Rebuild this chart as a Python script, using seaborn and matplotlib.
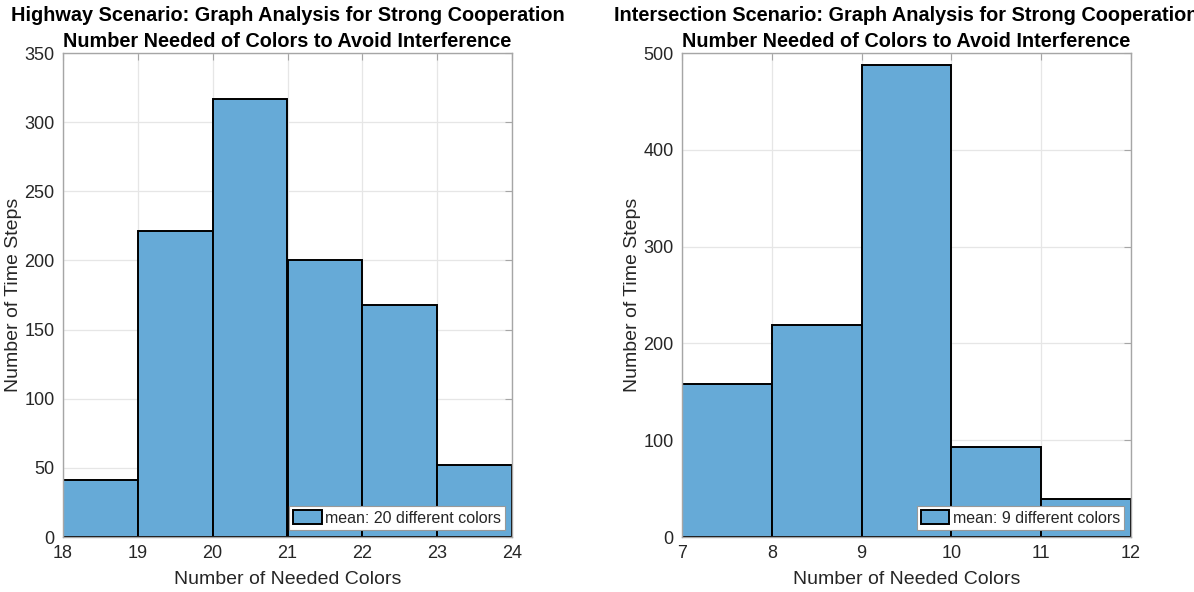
import numpy as np
import pandas as pd
import matplotlib
matplotlib.use("Agg")
import matplotlib.pyplot as plt
import seaborn as sns

# Histogram counts per color bin
highway_edges = [18, 19, 20, 21, 22, 23, 24]
highway_counts = [41, 221, 317, 200, 168, 52]
highway_mean = 20

intersection_edges = [7, 8, 9, 10, 11, 12]
intersection_counts = [158, 219, 488, 93, 39]
intersection_mean = 9

highway_yticks = [0, 50, 100, 150, 200, 250, 300, 350]
intersection_yticks = [0, 100, 200, 300, 400, 500]

sns.set_theme(style="white")
plt.rcParams["font.family"] = ["Liberation Sans", "DejaVu Sans"]

FACE = "#66aad7"
TEXT = "#262626"
SPINE = "#a6a6a6"
GRID = "#e6e6e6"

fig = plt.figure(figsize=(11.94, 5.92), dpi=100)
ax_l = fig.add_axes([63 / 1194, 1 - 537 / 592, 449 / 1194, 484 / 592])
ax_r = fig.add_axes([682 / 1194, 1 - 537 / 592, 449 / 1194, 484 / 592])


def draw_panel(ax, edges, counts, yticks, mean_val, scenario):
    centers = [(a + b) / 2 for a, b in zip(edges[:-1], edges[1:])]
    df = pd.DataFrame({"colors": centers, "count": counts})
    sns.histplot(data=df, x="colors", weights="count", bins=edges, ax=ax,
                 color=FACE, alpha=1.0, edgecolor="black", linewidth=1.4,
                 label=f"mean: {mean_val} different colors", zorder=3)
    ax.set_xlim(edges[0], edges[-1])
    ax.set_ylim(yticks[0], yticks[-1])
    ax.set_xticks(edges)
    ax.set_yticks(yticks)
    ax.grid(True, color=GRID, linewidth=0.9, zorder=0)
    ax.set_axisbelow(True)
    for s in ax.spines.values():
        s.set_visible(True)
        s.set_color(SPINE)
        s.set_linewidth(1.0)
        s.set_zorder(4)
    ax.tick_params(axis="both", direction="in", length=5, width=0.8,
                   color=SPINE, labelcolor=TEXT, labelsize=13,
                   top=True, right=True, pad=6)
    ax.set_xlabel("Number of Needed Colors", fontsize=14, color=TEXT, labelpad=6)
    ax.set_ylabel("Number of Time Steps", fontsize=14, color=TEXT, labelpad=2)
    # two-line bold heading, each line as its own text
    ax.set_title("Number Needed of Colors to Avoid Interference",
                 fontsize=14.3, fontweight="bold", color="black", pad=4)
    ax.annotate(f"{scenario} Scenario: Graph Analysis for Strong Cooperation",
                xy=(0.5, 1.0), xycoords="axes fraction",
                xytext=(0, 20), textcoords="offset points",
                ha="center", va="bottom", fontsize=14.3, fontweight="bold",
                color="black", annotation_clip=False)
    leg = ax.legend(loc="lower right", fontsize=11.5, frameon=True, fancybox=False,
                    borderpad=0.25, handlelength=1.8, handleheight=0.95,
                    handletextpad=0.2, borderaxespad=0.45)
    leg.get_frame().set_edgecolor("#999999")
    leg.get_frame().set_linewidth(0.8)
    leg.get_frame().set_alpha(1.0)
    leg.set_zorder(5)


draw_panel(ax_l, highway_edges, highway_counts, highway_yticks,
           highway_mean, "Highway")
draw_panel(ax_r, intersection_edges, intersection_counts, intersection_yticks,
           intersection_mean, "Intersection")

fig.savefig("out.png", dpi=100, facecolor="white")
